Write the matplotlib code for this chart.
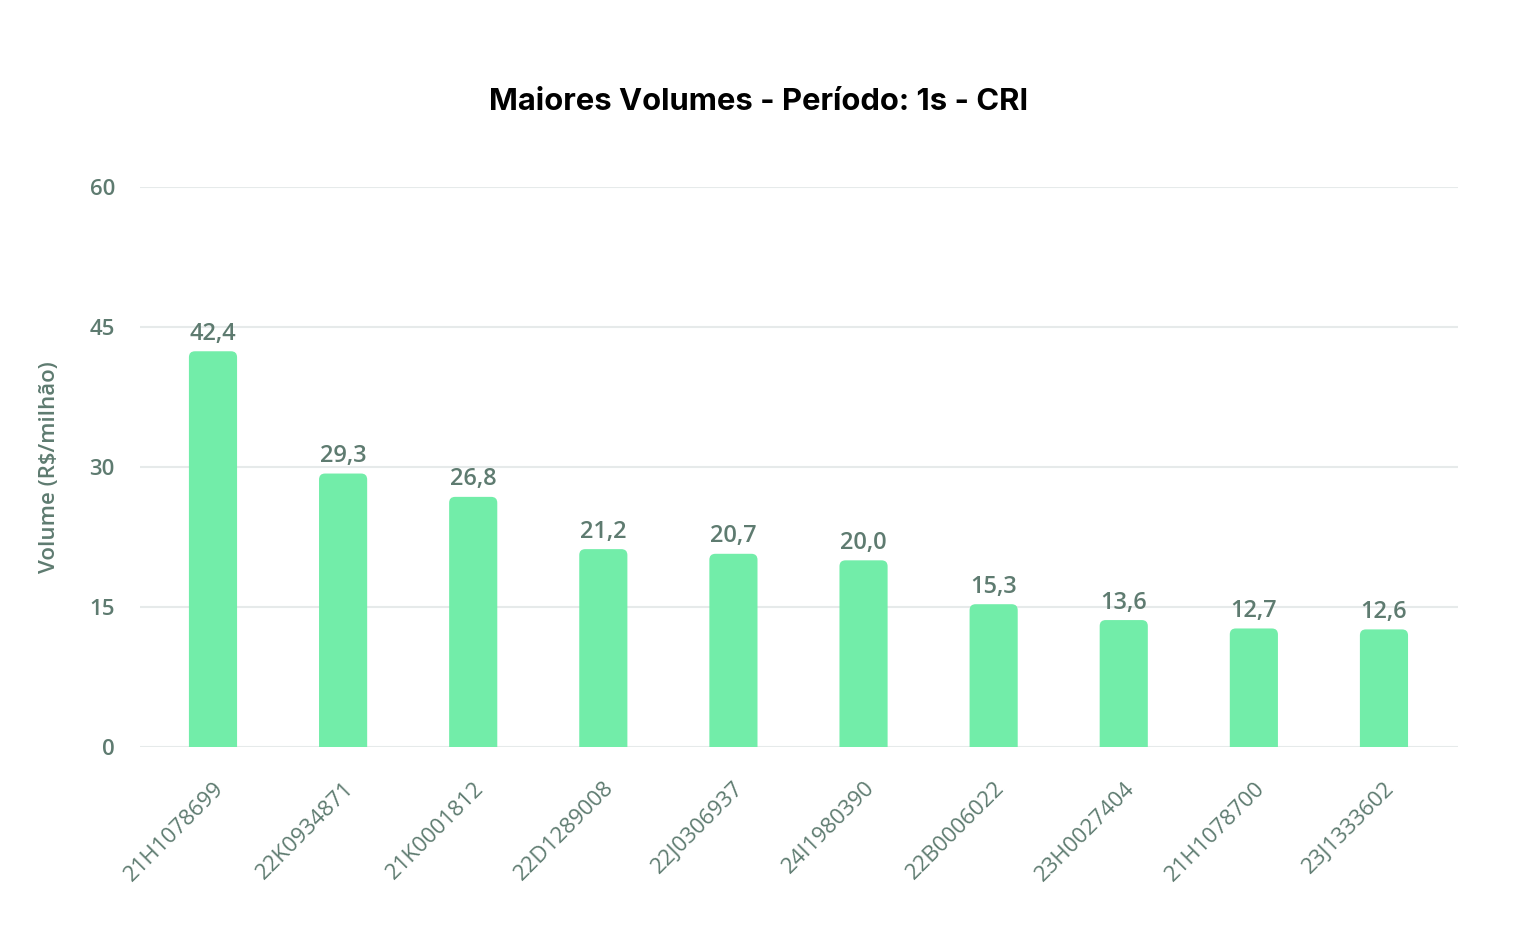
import matplotlib
matplotlib.use("Agg")
import matplotlib.pyplot as plt
from matplotlib.patches import FancyBboxPatch

categories = ["21H1078699", "22K0934871", "21K0001812", "22D1289008", "22J0306937",
              "24I1980390", "22B0006022", "23H0027404", "21H1078700", "23J1333602"]
values = [42.4, 29.3, 26.8, 21.2, 20.7, 20.0, 15.3, 13.6, 12.7, 12.6]
yticks = [0, 15, 30, 45, 60]

TXT = "#5e7b70"
BAR = "#72eda9"
GRID = "#e6eaea"

plt.rcParams['font.family'] = ['Open Sans', 'DejaVu Sans']

W, H = 1518, 948
fig = plt.figure(figsize=(W / 100, H / 100), dpi=100)
ax = fig.add_axes([140 / W, (H - 747) / H, (1458 - 140) / W, (747 - 187) / H])

xmin, xmax = -0.561, 9.569
ax.set_xlim(xmin, xmax)
ax.set_ylim(0, 60)

bw = 0.37
px_per_x = (1458 - 140) / (xmax - xmin)
px_per_y = (747 - 187) / 60.0
r_px = 6
rx = r_px / px_per_x
aspect = (r_px / px_per_y) / rx
for i, v in enumerate(values):
    p = FancyBboxPatch((i - bw / 2, -2), bw, v + 2,
                       boxstyle=f"round,pad=0,rounding_size={rx}",
                       mutation_aspect=aspect, facecolor=BAR, edgecolor='none',
                       zorder=3)
    ax.add_patch(p)
    ax.annotate(f"{v:.1f}".replace('.', ','), (i, v), xytext=(0, 4),
                textcoords='offset points', ha='center', va='bottom',
                fontsize=17, fontweight='semibold', color=TXT, zorder=4)

ax.set_yticks(yticks)
ax.set_yticklabels([str(t) for t in yticks])
ax.grid(axis='y', color=GRID, linewidth=1.5, zorder=0)
ax.set_axisbelow(True)
for s in ax.spines.values():
    s.set_visible(False)
ax.tick_params(axis='y', length=0, pad=18, labelsize=16, labelcolor=TXT)
ax.tick_params(axis='x', length=0, pad=22, labelsize=16, labelcolor=TXT)
for lab in ax.get_yticklabels():
    lab.set_fontweight('semibold')

ax.set_xticks(range(len(categories)))
ax.set_xticklabels(categories, rotation=45, ha='right', va='top',
                   rotation_mode='anchor', fontweight='medium')

ax.set_ylabel("Volume (R$/milhão)", fontsize=16, fontweight='semibold', color=TXT)
ax.yaxis.set_label_coords((60 - 140) / (1458 - 140), 0.5)

fig.text(759 / W, 1 - 102 / H, "Maiores Volumes - Período: 1s - CRI",
         ha='center', va='center', fontsize=22.3, fontweight='bold', color='black',
         family=['Inter', 'DejaVu Sans'])

fig.savefig("out.png", dpi=100, facecolor='white')
